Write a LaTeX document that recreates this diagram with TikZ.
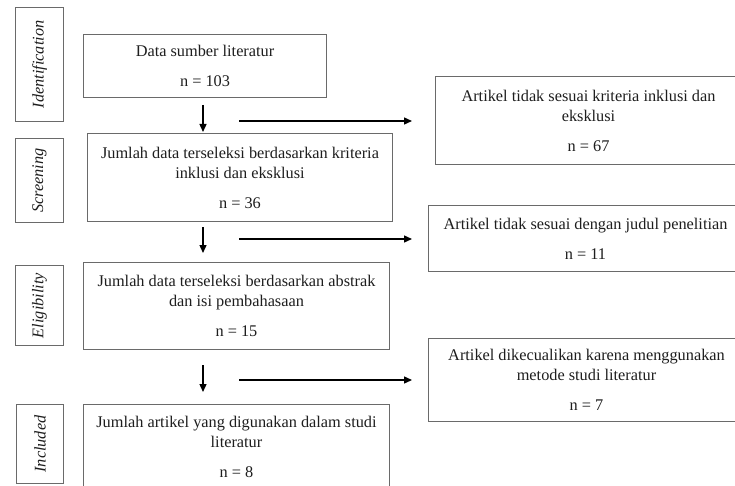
\documentclass[tikz,border=0pt]{standalone}
\usepackage{fontspec}
\setmainfont{Liberation Serif}
\usetikzlibrary{arrows.meta}
\definecolor{boxline}{HTML}{6A6A6A}
\definecolor{txt}{HTML}{1E1E1E}
\tikzset{
  flowbox/.style={draw=boxline, line width=1pt, rectangle, anchor=north west, inner sep=0pt,
    align=center, text=txt, font=\fontsize{16.3}{20}\selectfont},
  phasebox/.style={draw=boxline, line width=1pt, rectangle, anchor=north west, inner sep=0pt},
  phasetext/.style={rotate=90, text=txt, font=\fontsize{16.3}{20}\selectfont\itshape, inner sep=0pt},
  arr/.style={-{Triangle[length=8pt,width=7pt]}, line width=1.4pt, draw=black}
}
\begin{document}
\begin{tikzpicture}[x=1pt,y=-1pt]
\useasboundingbox (0,0) rectangle (735,486);
\clip (0,0) rectangle (735,486);
\fill[white] (0,0) rectangle (735,486);
% phase labels
\node[phasebox, minimum width=48pt, minimum height=114pt] (L1) at (15,7) {};
\node[phasetext] (T1) at (L1.center) {Identification};
\node[phasebox, minimum width=48pt, minimum height=84pt] (L2) at (15,138) {};
\node[phasetext] (T2) at (L2.center) {Screening};
\node[phasebox, minimum width=48pt, minimum height=80pt] (L3) at (15,265) {};
\node[phasetext] (T3) at (L3.center) {Eligibility};
\node[phasebox, minimum width=47pt, minimum height=79pt] (L4) at (16,404) {};
\node[phasetext] (T4) at (L4.center) {Included};
% main boxes
\node[flowbox, minimum width=243pt, minimum height=63pt] (b1) at (83,34)
  {Data sumber literatur\\[10pt]n = 103};
\node[flowbox, minimum width=305pt, minimum height=88pt] (b2) at (87,133)
  {Jumlah data terseleksi berdasarkan kriteria\\inklusi dan eksklusi\\[10pt]n = 36};
\node[flowbox, minimum width=306pt, minimum height=87pt] (b3) at (83,262)
  {Jumlah data terseleksi berdasarkan abstrak\\dan isi pembahasaan\\[10pt]n = 15};
\node[flowbox, minimum width=306pt, minimum height=85pt] (b4) at (83,404)
  {Jumlah artikel yang digunakan dalam studi\\literatur\\[10pt]n = 8};
% excluded boxes
\node[flowbox, minimum width=306pt, minimum height=88pt] (r1) at (435,76)
  {Artikel tidak sesuai kriteria inklusi dan\\eksklusi\\[10pt]n = 67};
\node[flowbox, minimum width=314pt, minimum height=66pt] (r2) at (428,205)
  {Artikel tidak sesuai dengan judul penelitian\\[10pt]n = 11};
\node[flowbox, minimum width=316pt, minimum height=83pt] (r3) at (428,338)
  {Artikel dikecualikan karena menggunakan\\metode studi literatur\\[10pt]n = 7};
% arrow end points
\coordinate (d1s) at (203,105); \coordinate (d1e) at (203,132);
\coordinate (d2s) at (203,227); \coordinate (d2e) at (203,253);
\coordinate (d3s) at (203,365); \coordinate (d3e) at (203,392);
\coordinate (h1s) at (239,121); \coordinate (h1e) at (412,121);
\coordinate (h2s) at (239,239); \coordinate (h2e) at (412,239);
\coordinate (h3s) at (239,380); \coordinate (h3e) at (412,380);
\draw[arr] (d1s) -- (d1e);
\draw[arr] (d2s) -- (d2e);
\draw[arr] (d3s) -- (d3e);
\draw[arr] (h1s) -- (h1e);
\draw[arr] (h2s) -- (h2e);
\draw[arr] (h3s) -- (h3e);
\end{tikzpicture}
\end{document}
